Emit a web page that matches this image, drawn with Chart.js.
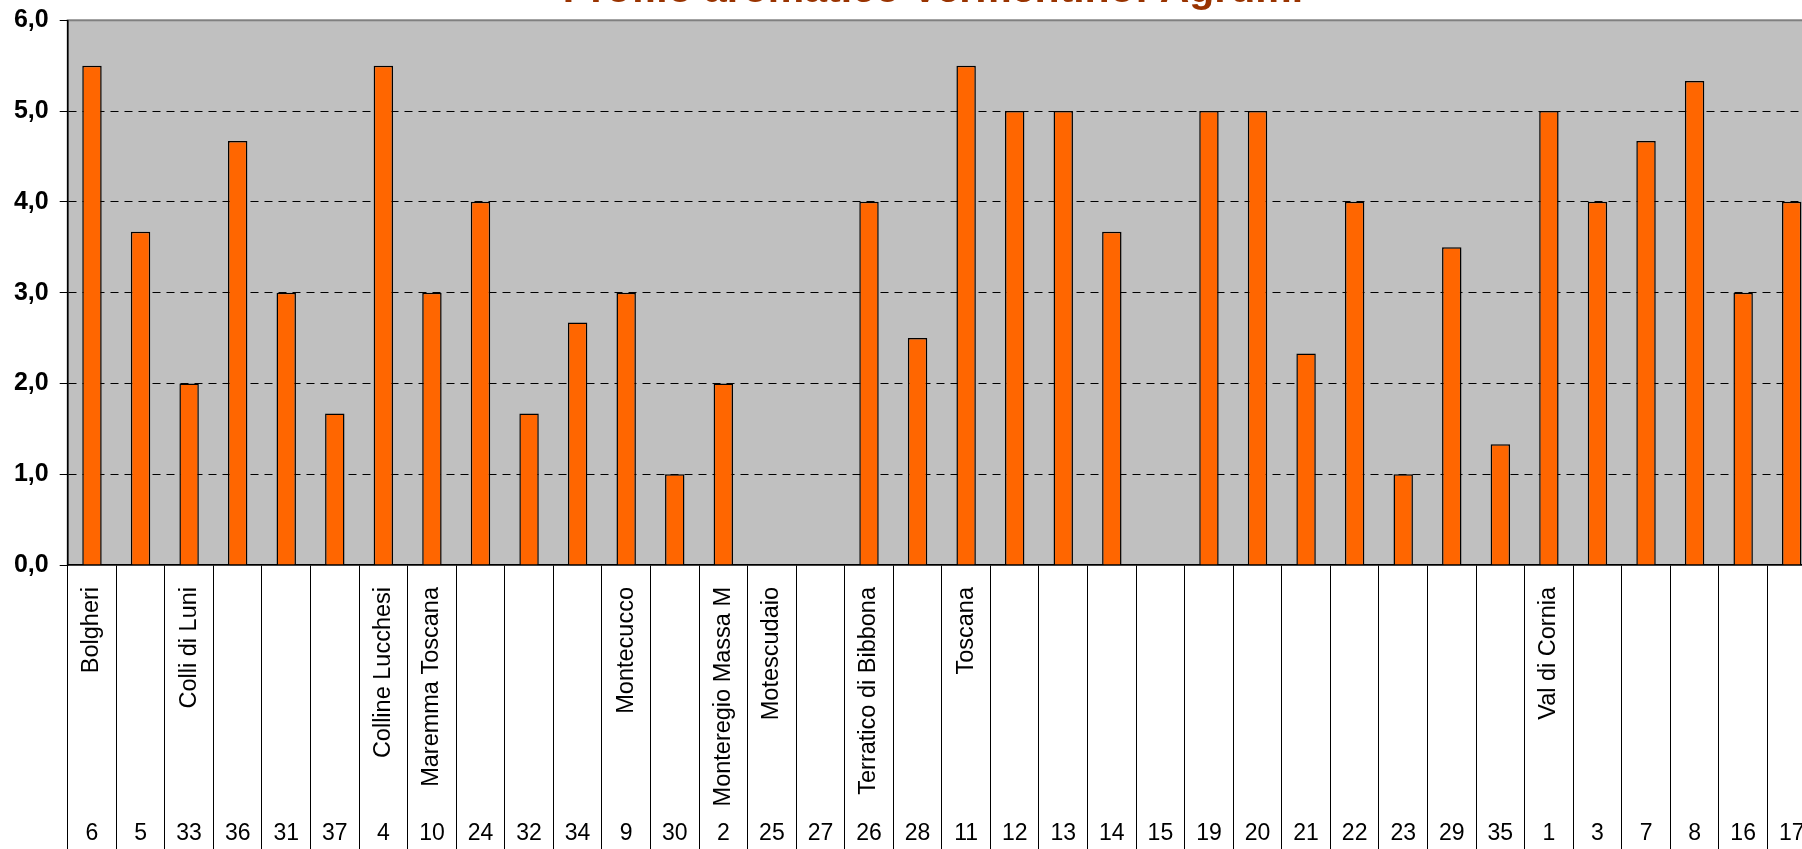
<!DOCTYPE html>
<html>
<head>
<meta charset="utf-8">
<script src="https://cdn.jsdelivr.net/npm/chart.js@4.4.1/dist/chart.umd.min.js"></script>
<style>
  html, body { margin: 0; padding: 0; background: #fff; overflow: hidden; width: 1802px; height: 849px; }
  #wrap { position: absolute; left: 0; top: -24px; width: 1870px; height: 880px; }
</style>
</head>
<body>
<div id="wrap"><canvas id="chart" width="1870" height="880"></canvas></div>
<script>
// sample numbers (lower axis level)
const samples = ['6', '5', '33', '36', '31', '37', '4', '10', '24', '32', '34', '9', '30', '2', '25', '27', '26', '28',
  '11', '12', '13', '14', '15', '19', '20', '21', '22', '23', '29', '35', '1', '3', '7', '8', '16', '17'];

// denominations (upper axis level), blank where no label
const zones = ['Bolgheri', '', 'Colli di Luni', '', '', '', 'Colline Lucchesi', 'Maremma Toscana', '', '', '',
  'Montecucco', '', 'Monteregio Massa M', 'Motescudaio', '', 'Terratico di Bibbona', '', 'Toscana',
  '', '', '', '', '', '', '', '', '', '', '', 'Val di Cornia', '', '', '', '', ''];

// Agrumi score
const agrumi = [5.5, 3.67, 2.0, 4.67, 3.0, 1.67, 5.5, 3.0, 4.0, 1.67, 2.67, 3.0, 1.0, 2.0, 0, 0, 4.0, 2.5,
  5.5, 5.0, 5.0, 3.67, 0, 5.0, 5.0, 2.33, 4.0, 1.0, 3.5, 1.33, 5.0, 4.0, 4.67, 5.33, 3.0, 4.0];

const yTicks = [0, 1, 2, 3, 4, 5, 6];

const FONT = "'Liberation Sans', Arial, sans-serif";

// grey plot area with a grey frame
const plotArea = {
  id: 'plotArea',
  beforeDraw(chart) {
    const { ctx, chartArea: a } = chart;
    ctx.save();
    ctx.fillStyle = '#C0C0C0';
    ctx.fillRect(a.left, a.top, a.width, a.height);
    ctx.strokeStyle = '#808080';
    ctx.lineWidth = 2;
    ctx.strokeRect(a.left, a.top, a.width, a.height);
    ctx.restore();
  }
};

new Chart(document.getElementById('chart'), {
  type: 'bar',
  data: {
    labels: samples,
    datasets: [{
      label: 'Agrumi',
      data: agrumi,
      backgroundColor: '#FF6600',
      borderColor: '#000000',
      borderWidth: 1.5,
      borderSkipped: 'bottom',
      barPercentage: 0.4,
      categoryPercentage: 1.0
    }]
  },
  options: {
    responsive: false,
    animation: false,
    devicePixelRatio: 1,
    layout: { padding: { left: 13, right: 17, top: 0, bottom: 0 } },
    plugins: {
      legend: { display: false },
      tooltip: { enabled: false },
      title: {
        display: true,
        text: 'Profilo aromatico Vermentino: Agrumi',
        color: '#993300',
        font: { family: FONT, size: 41, weight: 'bold', lineHeight: 1.08 },
        padding: { top: -7, bottom: 7 }
      }
    },
    scales: {
      y: {
        min: 0,
        max: 6,
        afterBuildTicks: (axis) => { axis.ticks = yTicks.map(v => ({ value: v })); },
        afterFit: (axis) => { axis.width = 54.7; },
        ticks: {
          padding: 11,
          color: '#000',
          font: { family: FONT, size: 25, weight: 'bold' },
          callback: (v) => Number(v).toFixed(1).replace('.', ',')
        },
        grid: {
          color: (ctx) => (ctx.tick && (ctx.tick.value === 0 || ctx.tick.value === 6)) ? 'rgba(0,0,0,0)' : '#000',
          lineWidth: 1,
          tickLength: 8,
          tickColor: '#000',
          tickBorderDash: []
        },
        border: { display: true, color: '#000', width: 1.5, dash: [8, 6] }
      },
      // empty spacer beyond the visible right edge
      yRight: {
        position: 'right',
        afterFit: (axis) => { axis.width = 37; },
        ticks: { display: false },
        grid: { display: false, drawTicks: false },
        border: { display: false }
      },
      zone: {
        type: 'category',
        labels: zones,
        position: 'bottom',
        weight: 1,
        offset: true,
        afterFit: (axis) => { axis.height = 250; },
        ticks: {
          autoSkip: false,
          minRotation: 90,
          maxRotation: 90,
          padding: -278,
          color: '#000',
          font: { family: FONT, size: 23.5 }
        },
        grid: {
          offset: true,
          drawOnChartArea: false,
          tickLength: 300,
          tickColor: '#000',
          tickWidth: 1
        },
        border: { display: true, color: '#000', width: 1.5 }
      },
      x: {
        position: 'bottom',
        weight: 2,
        afterFit: (axis) => { axis.height = 41; },
        ticks: {
          autoSkip: false,
          maxRotation: 0,
          padding: 5,
          color: '#000',
          font: { family: FONT, size: 23 }
        },
        grid: { display: false, drawTicks: false },
        border: { display: false }
      }
    }
  },
  plugins: [plotArea]
});
</script>
</body>
</html>
